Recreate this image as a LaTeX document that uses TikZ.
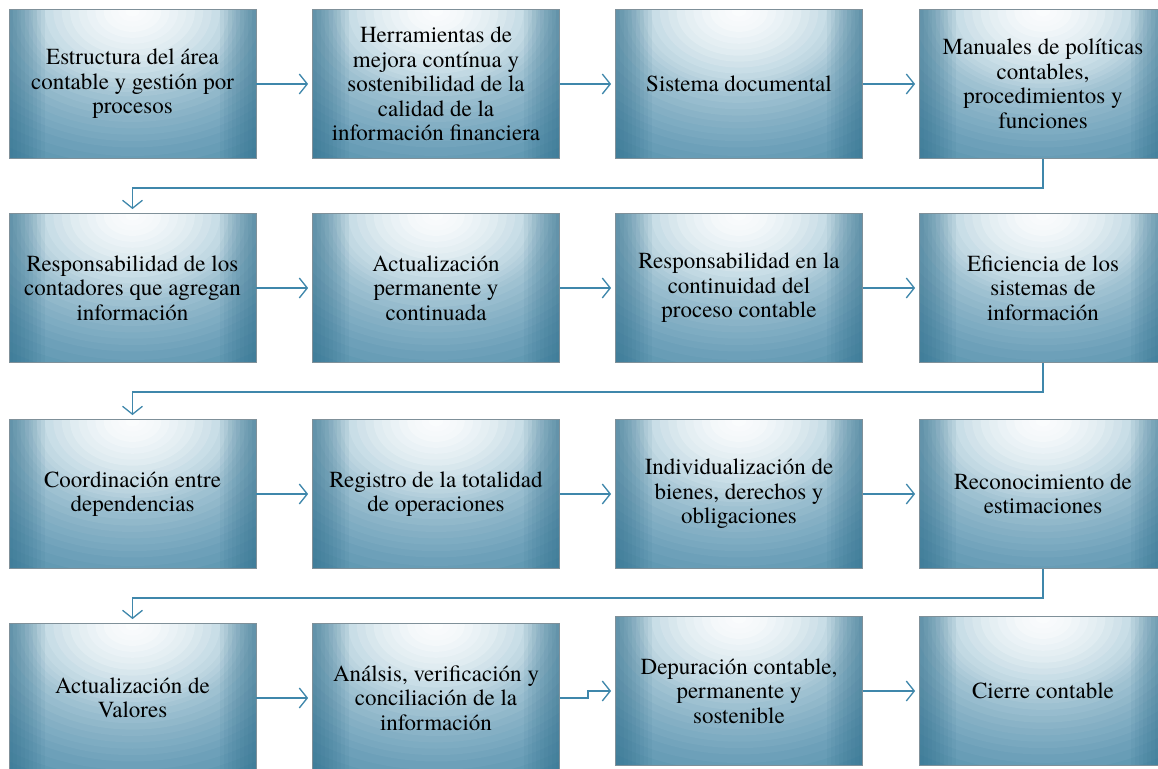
\documentclass[tikz,border=0pt]{standalone}
\usepackage{fontspec}
\setmainfont{TeX Gyre Termes}
\usetikzlibrary{arrows.meta}
\definecolor{e0}{HTML}{FCFDFE}
\definecolor{e1}{HTML}{F4F8FA}
\definecolor{e2}{HTML}{E0ECF1}
\definecolor{e3}{HTML}{C2D9E3}
\definecolor{e4}{HTML}{A5C5D4}
\definecolor{e5}{HTML}{8AB3C7}
\definecolor{e6}{HTML}{73A4BC}
\definecolor{e7}{HTML}{5D96B0}
\definecolor{e8}{HTML}{4383A2}
\definecolor{e9}{HTML}{2A6A88}
\definecolor{boxline}{HTML}{7F9099}
\definecolor{arrowc}{HTML}{3F87AB}
\tikzset{
  stepbox/.style={rectangle, minimum width=247pt, minimum height=149pt, inner sep=0pt,
    draw=boxline, line width=0.8pt, align=center, text=black,
    font=\rmfamily\fontsize{23}{24.5}\selectfont,
    path picture={
      \path ([yshift=-2pt]path picture bounding box.north) coordinate (pp);
      \fill[e8] (path picture bounding box.south west) rectangle (path picture bounding box.north east);
      \foreach \ro/\co/\ri/\ci in {1.2/e8/1.0/e7, 1.0/e7/0.8/e6, 0.8/e6/0.65/e5, 0.65/e5/0.5/e4,
          0.5/e4/0.4/e3, 0.4/e3/0.26/e2, 0.26/e2/0.12/e1, 0.12/e1/0.0/e0}{
        \foreach \k in {0,1,2,3}{
          \pgfmathsetmacro\rr{\ro-(\ro-\ri)*\k/4}
          \pgfmathtruncatemacro\pc{100-25*\k}
          \fill[\co!\pc!\ci] (pp) ellipse [x radius={240pt*\rr}, y radius={170pt*\rr}];
        }
      }
      \foreach \w in {4,8,...,36}{
        \fill[e9, opacity=0.07] (path picture bounding box.south west) rectangle ++(\w,149);
        \fill[e9, opacity=0.07] (path picture bounding box.north east) rectangle ++(-\w,-149);
      }
    }},
  conn/.style={draw=arrowc, line width=1.3pt,
    -{Straight Barb[length=8pt,width=20pt,line width=1.3pt]}, shorten >=4pt}
}
\begin{document}
\begin{tikzpicture}[x=1pt,y=1pt]
\useasboundingbox (0,0) rectangle (1158,768);
% row 1
\node[stepbox] (b11) at (132.5,684) {Estructura del área\\contable y gestión por\\procesos};
\node[stepbox] (b12) at (436,684) {Herramientas de\\mejora contínua y\\sostenibilidad de la\\calidad de la\\información financiera};
\node[stepbox] (b13) at (739,684) {Sistema documental};
\node[stepbox] (b14) at (1043,684) {Manuales de políticas\\contables,\\procedimientos y\\funciones};
% row 2
\node[stepbox] (b21) at (132.5,480) {Responsabilidad de los\\contadores que agregan\\información};
\node[stepbox] (b22) at (436,480) {Actualización\\permanente y\\continuada};
\node[stepbox] (b23) at (739,480) {Responsabilidad en la\\continuidad del\\proceso contable};
\node[stepbox] (b24) at (1043,480) {Eficiencia de los\\sistemas de\\información};
% row 3
\node[stepbox] (b31) at (132.5,274) {Coordinación entre\\dependencias};
\node[stepbox] (b32) at (436,274) {Registro de la totalidad\\de operaciones};
\node[stepbox] (b33) at (739,274) {Individualización de\\bienes, derechos y\\obligaciones};
\node[stepbox] (b34) at (1043,274) {Reconocimiento de\\estimaciones};
% row 4
\node[stepbox] (b41) at (132.5,70) {Actualización de\\Valores};
\node[stepbox] (b42) at (436,70) {Análsis, verificación y\\conciliación de la\\información};
\node[stepbox] (b43) at (739,77) {Depuración contable,\\permanente y\\sostenible};
\node[stepbox] (b44) at (1043,77) {Cierre contable};
% connectors
\draw[conn] (b11) -- (b12);
\draw[conn] (b12) -- (b13);
\draw[conn] (b13) -- (b14);
\draw[conn] (b14.south) -- ++(0,-29) -| (b21.north);
\draw[conn] (b21) -- (b22);
\draw[conn] (b22) -- (b23);
\draw[conn] (b23) -- (b24);
\draw[conn] (b24.south) -- ++(0,-29) -| (b31.north);
\draw[conn] (b31) -- (b32);
\draw[conn] (b32) -- (b33);
\draw[conn] (b33) -- (b34);
\draw[conn] (b34.south) -- ++(0,-29) -| (b41.north);
\draw[conn] (b41) -- (b42);
\draw[conn] (b42.east) -- ++(28,0) |- (b43.west);
\draw[conn] (b43) -- (b44);
\end{tikzpicture}
\end{document}
